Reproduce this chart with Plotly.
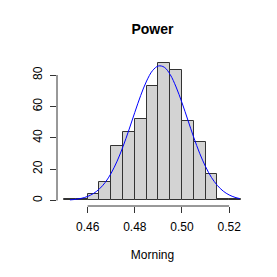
import plotly.graph_objects as go

# Histogram data (bin edges, counts)
bin_edges = [0.450, 0.455, 0.460, 0.465, 0.470, 0.475, 0.480, 0.485, 0.490,
             0.495, 0.500, 0.505, 0.510, 0.515, 0.520, 0.525]
counts = [1, 1, 4, 12, 35, 44, 52, 73, 88, 83, 51, 37, 17, 1, 1]

# Overlay curve
curve_x = [0.4525, 0.4550, 0.4575, 0.4600, 0.4625, 0.4650, 0.4675, 0.4700,
           0.4725, 0.4750, 0.4775, 0.4800, 0.4825, 0.4850, 0.4875, 0.4900,
           0.4925, 0.4950, 0.4975, 0.5000, 0.5025, 0.5050, 0.5075, 0.5100,
           0.5125, 0.5150, 0.5175, 0.5200, 0.5225, 0.5245]
curve_y = [0.38, 0.75, 1.43, 2.59, 4.48, 7.40, 11.6, 17.5,
           25.1, 34.4, 45.0, 56.2, 67.0, 76.2, 82.8, 85.8,
           85.0, 80.3, 72.4, 62.4, 51.3, 40.2, 30.1, 21.6,
           14.7, 9.6, 5.96, 3.54, 2.01, 1.2]

x_ticks = [0.46, 0.48, 0.50, 0.52]
x_tick_labels = ["0.46", "0.48", "0.50", "0.52"]
y_ticks = [0, 20, 40, 60, 80]
y_tick_labels = ["0", "20", "40", "60", "80"]

widths = [bin_edges[i + 1] - bin_edges[i] for i in range(len(counts))]
lefts = bin_edges[:-1]

fig = go.Figure()
fig.add_trace(go.Bar(
    x=lefts, y=counts, width=widths, offset=0,
    marker=dict(color="#D3D3D3", line=dict(color="#333333", width=1)),
    showlegend=False, hoverinfo="skip",
))
fig.add_trace(go.Scatter(
    x=curve_x, y=curve_y, mode="lines", line=dict(color="blue", width=1, shape="spline"),
    showlegend=False, hoverinfo="skip",
))

xmin, xmax = bin_edges[0], bin_edges[-1]
xpad = (xmax - xmin) * 0.04
ymax = max(counts)
ypad = ymax * 0.04

font = "Liberation Sans, Arial, Helvetica, sans-serif"

fig.update_layout(
    width=277, height=277,
    margin=dict(l=57, r=29, t=57, b=71),
    paper_bgcolor="white", plot_bgcolor="white",
    font=dict(family=font, size=12, color="black"),
    bargap=0,
    title=dict(text="<b>Power</b>", x=0.5, xanchor="center", xref="paper",
               y=1 - 29 / 277, yanchor="middle", font=dict(size=14, family=font)),
    xaxis=dict(
        range=[xmin - xpad, xmax + xpad], tickvals=x_ticks, ticktext=x_tick_labels,
        ticks="outside", ticklen=6, tickwidth=1, tickcolor="#333",
        showgrid=False, zeroline=False, showline=False,
        ticklabelstandoff=4,
        title=dict(text="Morning", standoff=17, font=dict(size=12)),
    ),
    yaxis=dict(
        range=[-ypad, ymax + ypad], tickvals=y_ticks, ticktext=y_tick_labels,
        ticks="outside", ticklen=6, tickwidth=1, tickcolor="#333",
        tickangle=-90, showgrid=False, zeroline=False, showline=False,
        ticklabelstandoff=3,
    ),
    shapes=[
        dict(type="line", xref="paper", yref="y", x0=0, x1=0,
             y0=y_ticks[0], y1=y_ticks[-1], line=dict(color="#333", width=1)),
        dict(type="line", xref="x", yref="paper", x0=x_ticks[0], x1=x_ticks[-1],
             y0=0, y1=0, line=dict(color="#333", width=1)),
    ],
)

fig.write_html("out.html", config={"displayModeBar": False},
               post_script="document.body.style.margin='0';")
